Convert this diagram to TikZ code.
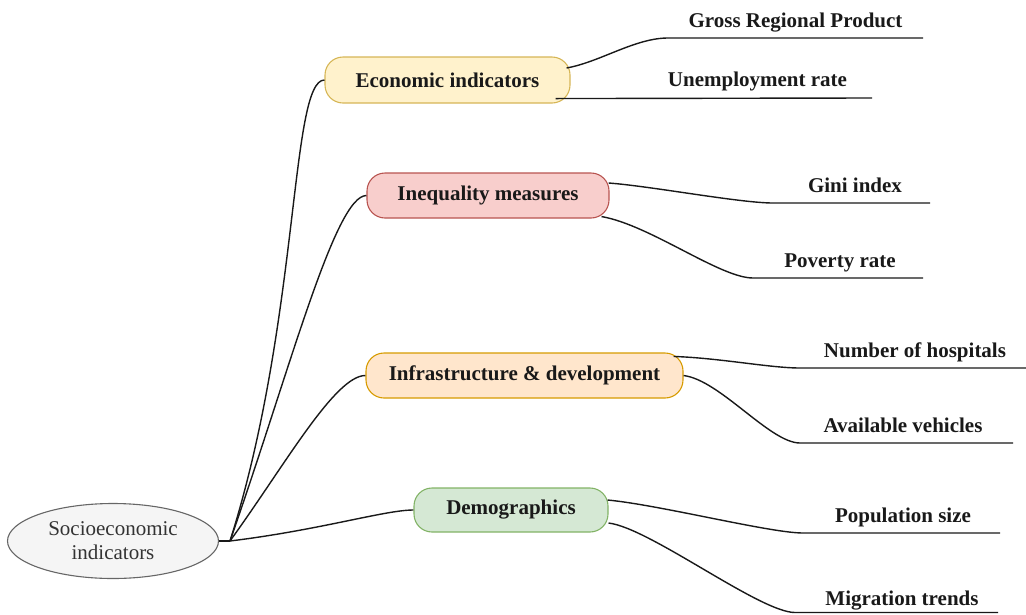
\documentclass[tikz,border=0pt]{standalone}
\usepackage{fontspec}
\setmainfont{Liberation Serif}
\usepackage{tikz}
\usetikzlibrary{shapes.geometric, calc, positioning}
\definecolor{rootfill}{HTML}{F5F5F5}
\definecolor{rootline}{HTML}{666666}
\definecolor{roottext}{HTML}{333333}
\definecolor{econfill}{HTML}{FFF2CC}
\definecolor{econline}{HTML}{D6B656}
\definecolor{ineqfill}{HTML}{F8CECC}
\definecolor{ineqline}{HTML}{B85450}
\definecolor{infrafill}{HTML}{FFE6CC}
\definecolor{infraline}{HTML}{D79B00}
\definecolor{demofill}{HTML}{D5E8D4}
\definecolor{demoline}{HTML}{82B366}
\newcommand{\mapfont}{\fontsize{21}{25}\selectfont}
\tikzstyle{branch} = [draw, rounded corners=18pt, minimum height=45pt, line width=1.1pt, inner sep=0pt, font=\mapfont\bfseries, text=black!90]
\tikzstyle{leaf} = [anchor=base, inner sep=0pt, font=\mapfont\bfseries, text=black!90]
\tikzstyle{link} = [line width=1.4pt, black!90]

\begin{document}
\begin{tikzpicture}[x=1pt, y=-1pt]
        \useasboundingbox (0,0) rectangle (1026,614);
        \node[ellipse, draw=rootline, fill=rootfill, text=roottext, line width=1.1pt, minimum width=211pt, minimum height=75pt, inner sep=0pt, align=center, font=\mapfont] (root) at (113,541) {Socioeconomic\\[-1pt]indicators};
        \coordinate (hub) at (230,541);

        \node[branch, fill=econfill, draw=econline, minimum width=245pt, minimum height=46pt] (econ) at (447.5,80) {Economic indicators};
        \node[branch, fill=ineqfill, draw=ineqline, minimum width=242pt] (ineq) at (488,195.5) {Inequality measures};
        \node[branch, fill=infrafill, draw=infraline, minimum width=317pt] (infra) at (524.5,375.5) {Infrastructure \& development};
        \node[branch, fill=demofill, draw=demoline, minimum width=194pt, minimum height=44pt] (demo) at (511,510) {Demographics};

        \node[leaf] (gdp) at (795.5,27) {Gross Regional Product};
        \node[leaf] (unemp) at (757.5,86) {Unemployment rate};
        \node[leaf] (gini) at (855,192) {Gini index};
        \node[leaf] (pov) at (840,267) {Poverty rate};
        \node[leaf] (hosp) at (915,357) {Number of hospitals};
        \node[leaf] (veh) at (903,432) {Available vehicles};
        \node[leaf] (pop) at (903,522) {Population size};
        \node[leaf] (mig) at (902,605) {Migration trends};

        \coordinate (gdpA) at (668,38);   \coordinate (gdpB) at (923,38);
        \coordinate (unempB) at (872,98);
        \coordinate (giniA) at (773,203); \coordinate (giniB) at (930,203);
        \coordinate (povA) at (753,278);  \coordinate (povB) at (923,278);
        \coordinate (hospA) at (800,368); \coordinate (hospB) at (1026,368);
        \coordinate (vehA) at (800,443);  \coordinate (vehB) at (1013,443);
        \coordinate (popA) at (803,533);  \coordinate (popB) at (1000,533);
        \coordinate (migA) at (795,612.5); \coordinate (migB) at (998,612.5);

        \draw[link] (root.east) -- (hub);
        \draw[link] (hub) .. controls (300,320) and (290,80) .. (econ.west);
        \draw[link] (hub) .. controls (290,370) and (335,195.5) .. (ineq.west);
        \draw[link] (hub) .. controls (285,465) and (335,375.5) .. (infra.west);
        \draw[link] (hub) .. controls (320,530) and (385,510) .. (demo.west);

        \draw[link] ($(econ.east)+(-4,-12)$) .. controls (600,62) and (635,38) .. (gdpA) -- (gdpB);
        \draw[link] ($(econ.south east)+(-15,-5)$) -- (unempB);
        \draw[link] ($(ineq.east)+(-1,-12.5)$) .. controls (650,186) and (740,203) .. (giniA) -- (giniB);
        \draw[link] ($(ineq.south east)+(-8,-2)$) .. controls (650,225) and (720,278) .. (povA) -- (povB);
        \draw[link] ($(infra.north east)+(-10,4)$) .. controls (720,358) and (770,368) .. (hospA) -- (hospB);
        \draw[link] (infra.east) .. controls (720,380) and (770,443) .. (vehA) -- (vehB);
        \draw[link] ($(demo.east)+(-1,-10)$) .. controls (660,505) and (770,533) .. (popA) -- (popB);
        \draw[link] ($(demo.east)+(0,13)$) .. controls (650,528) and (760,612.5) .. (migA) -- (migB);
      \end{tikzpicture}
\end{document}
